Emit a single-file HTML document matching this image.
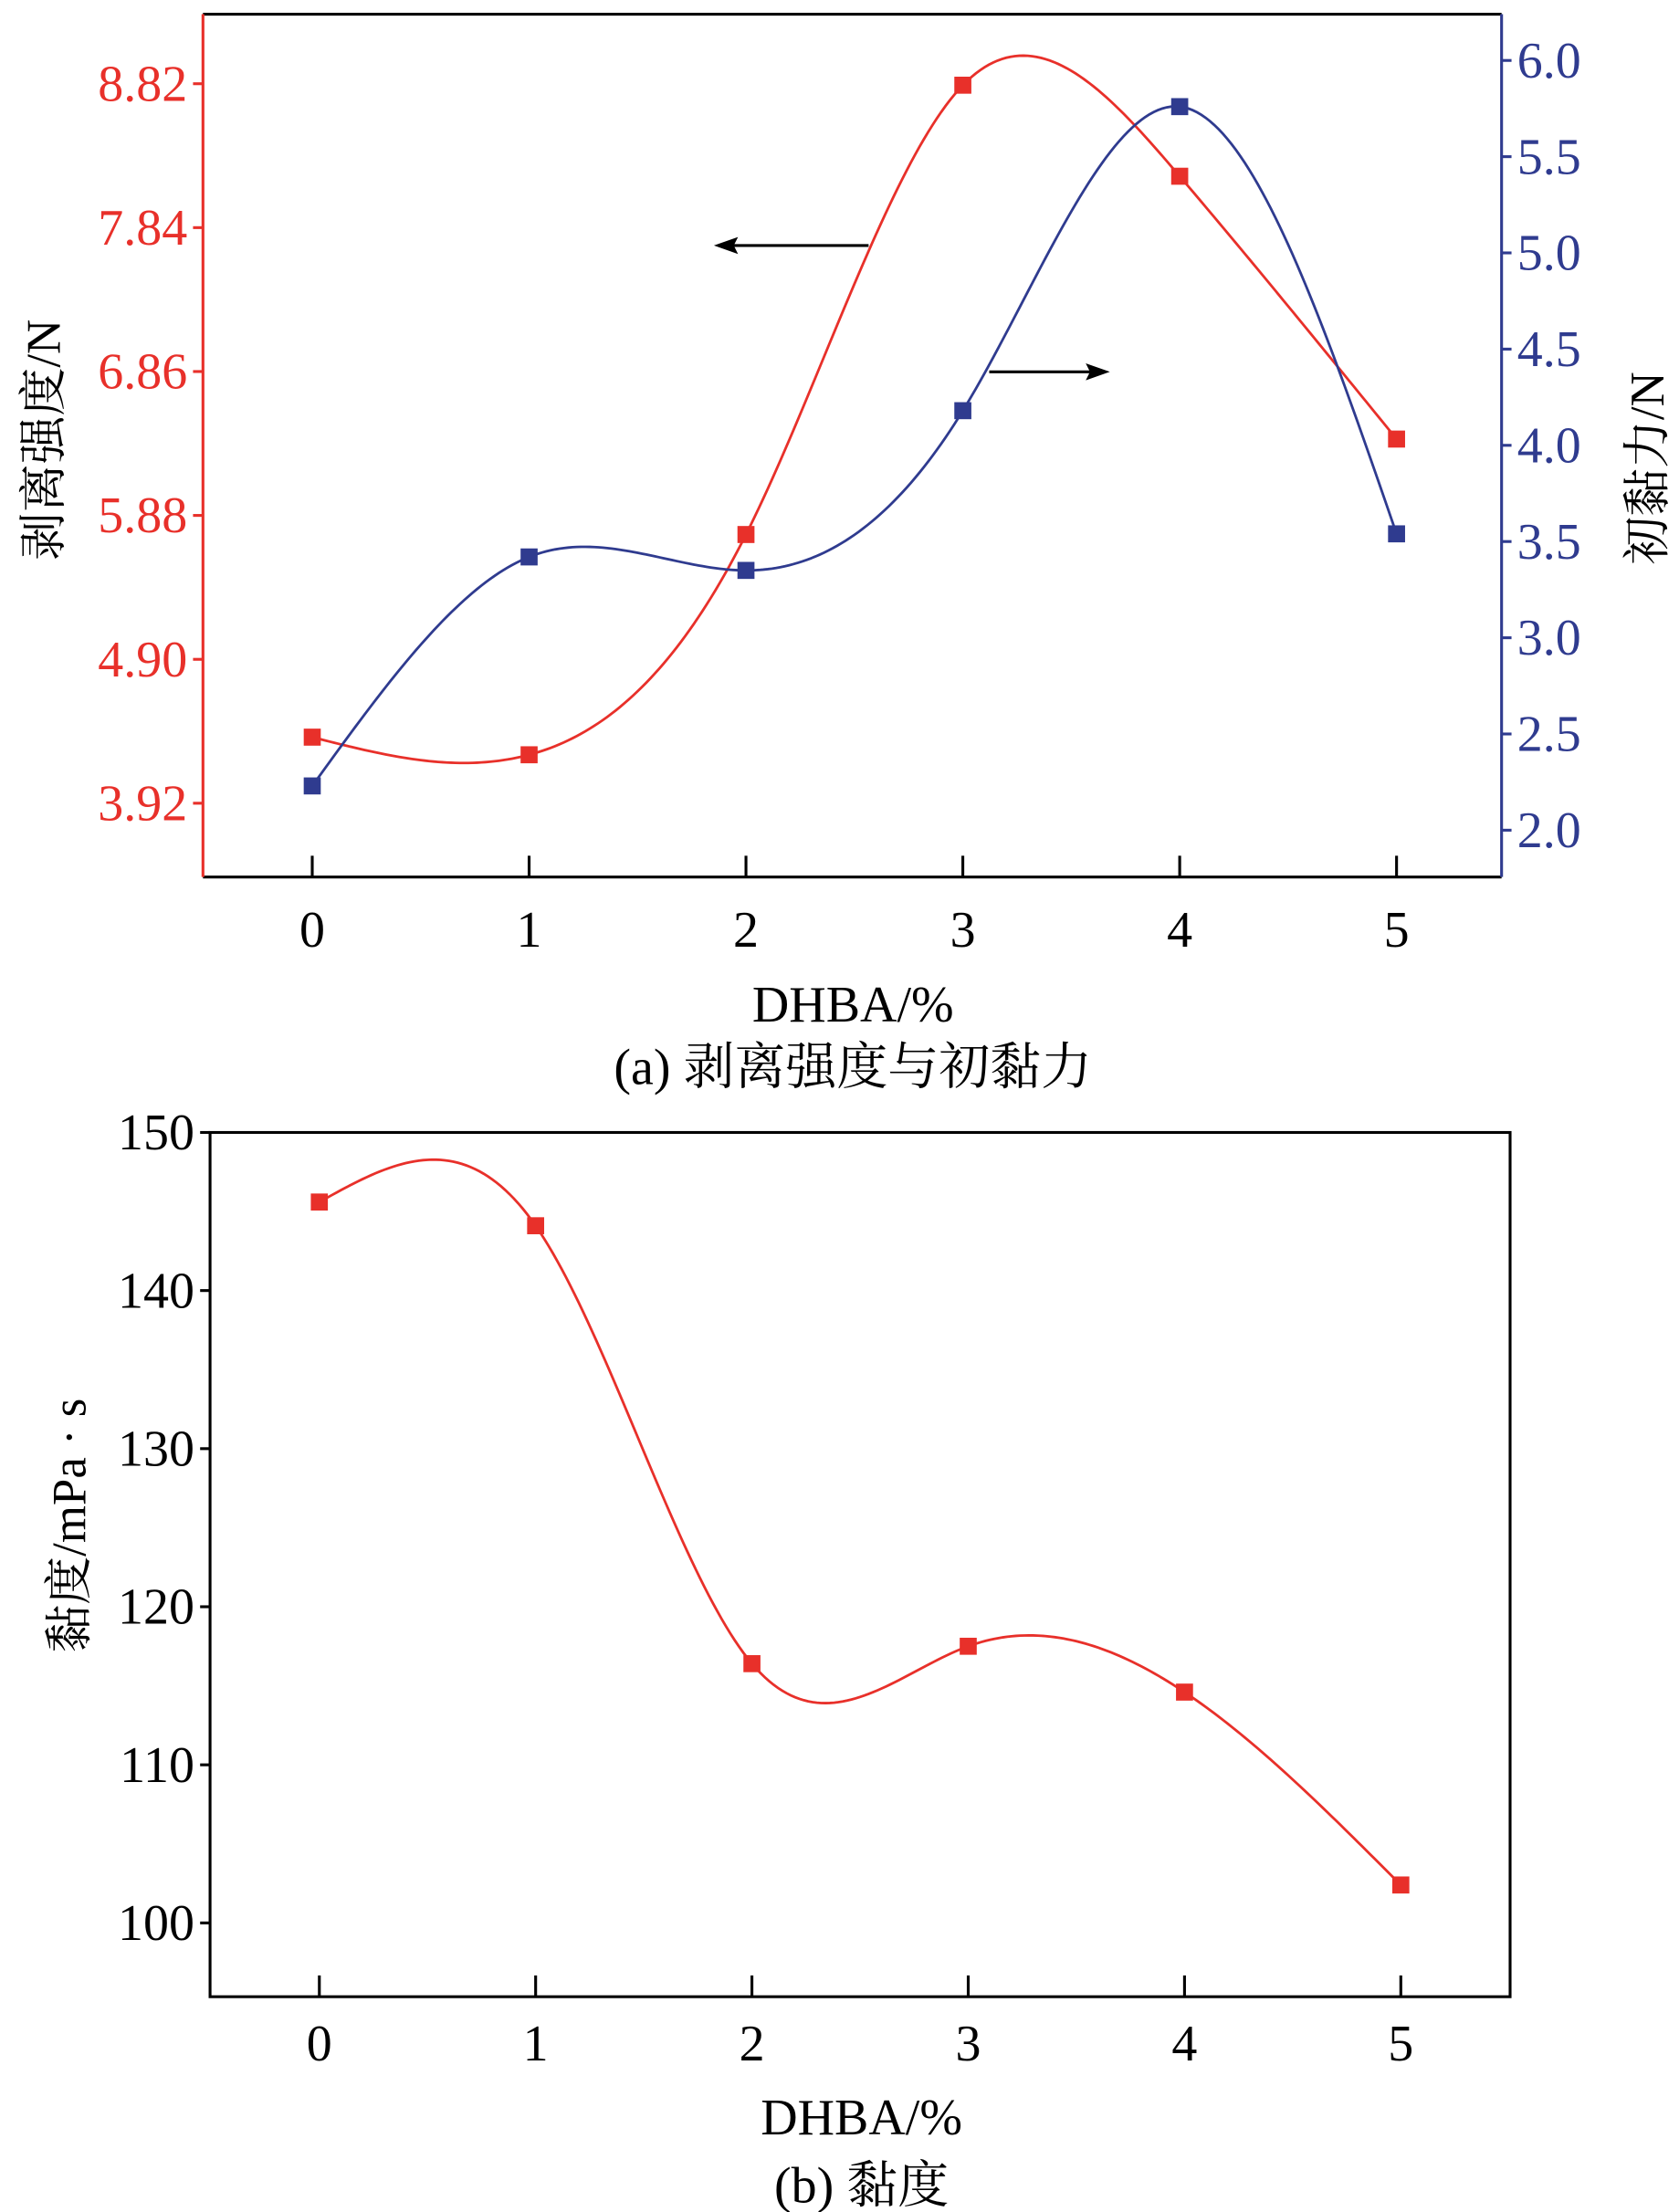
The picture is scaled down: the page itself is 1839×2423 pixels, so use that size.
<!DOCTYPE html>
<html><head><meta charset="utf-8"><style>html,body{margin:0;padding:0;background:#fff}svg{display:block}text{font-family:"Liberation Serif","Noto Serif CJK SC",serif}</style></head>
<body>
<svg id="fig" width="1839" height="2423" viewBox="0 0 1183 1558.7" xmlns="http://www.w3.org/2000/svg"></svg>
<script>
const categories=[0,1,2,3,4,5];
const peelValues=[4.37,4.25,5.75,8.81,8.19,6.40];
const tackValues=[2.23,3.42,3.35,4.18,5.76,3.54];
const viscValues=[145.6,144.1,116.4,117.5,114.6,102.4];
const peelTicks=[3.92,4.90,5.88,6.86,7.84,8.82];
const peelTickLabels=["3.92","4.90","5.88","6.86","7.84","8.82"];
const tackTicks=[2.0,2.5,3.0,3.5,4.0,4.5,5.0,5.5,6.0];
const tackTickLabels=["2.0","2.5","3.0","3.5","4.0","4.5","5.0","5.5","6.0"];
const viscTicks=[100,110,120,130,140,150];
const viscTickLabels=["100","110","120","130","140","150"];

const svg=document.getElementById('fig');
const NS='http://www.w3.org/2000/svg';
function el(tag,attrs,parent){const e=document.createElementNS(NS,tag);for(const k in attrs)e.setAttribute(k,attrs[k]);(parent||svg).appendChild(e);return e;}
function txt(s,attrs,parent){const e=el('text',attrs,parent);e.textContent=s;return e;}
function spline(xs,ys){const n=xs.length;const h=[],al=[0],l=[1],mu=[0],z=[0];for(let i=0;i<n-1;i++)h.push(xs[i+1]-xs[i]);
for(let i=1;i<n-1;i++)al.push(3/h[i]*(ys[i+1]-ys[i])-3/h[i-1]*(ys[i]-ys[i-1]));
for(let i=1;i<n-1;i++){l[i]=2*(xs[i+1]-xs[i-1])-h[i-1]*mu[i-1];mu[i]=h[i]/l[i];z[i]=(al[i]-h[i-1]*z[i-1])/l[i];}
const c=new Array(n).fill(0),b=[],d=[];for(let j=n-2;j>=0;j--){c[j]=z[j]-mu[j]*c[j+1];b[j]=(ys[j+1]-ys[j])/h[j]-h[j]*(c[j+1]+2*c[j])/3;d[j]=(c[j+1]-c[j])/(3*h[j]);}
return t=>{let j=Math.min(n-2,Math.max(0,Math.floor(t)));const dx=t-xs[j];return ys[j]+b[j]*dx+c[j]*dx*dx+d[j]*dx*dx*dx;};}
function curve(xf,yf,vals,color,name,g){const f=spline(categories,vals);let p='';for(let t=0;t<=5.0001;t+=0.02){p+=(p?'L':'M')+xf(t).toFixed(2)+','+yf(f(t)).toFixed(2);}
const path=el('path',{d:p,fill:'none',stroke:color,'stroke-width':1.8},g);


vals.forEach((v,i)=>{const r=el('rect',{x:xf(categories[i])-6,y:yf(v)-6,width:12,height:12,fill:color},g);

});}

// ===== Chart (a) =====
const ga=el('g',{});
const A={l:143,r:1058,t:10,b:618};
const xa=v=>220+v*152.8;
const ya=v=>566-(v-3.92)/0.98*101.4;
const yb=v=>585-(v-2.0)/0.5*67.8;
const RED='#e8302a',BLUE='#2f3b8f';
el('line',{x1:A.l,y1:A.t,x2:A.r,y2:A.t,stroke:'#000','stroke-width':2},ga);
el('line',{x1:A.l,y1:A.b,x2:A.r,y2:A.b,stroke:'#000','stroke-width':2},ga);
el('line',{x1:A.l,y1:A.t,x2:A.l,y2:A.b,stroke:RED,'stroke-width':2},ga);
el('line',{x1:A.r,y1:A.t,x2:A.r,y2:A.b,stroke:BLUE,'stroke-width':2},ga);
categories.forEach(c=>{el('line',{x1:xa(c),y1:A.b,x2:xa(c),y2:A.b-15,stroke:'#000','stroke-width':2},ga);
const t=txt(String(c),{x:xa(c),y:667,'font-size':36,'text-anchor':'middle',fill:'#000'},ga);
});
peelTicks.forEach((v,i)=>{el('line',{x1:A.l,y1:ya(v),x2:A.l-7,y2:ya(v),stroke:RED,'stroke-width':2},ga);
const t=txt(peelTickLabels[i],{x:A.l-11,y:ya(v)+12,'font-size':36,'text-anchor':'end',fill:RED},ga);
});
tackTicks.forEach((v,i)=>{el('line',{x1:A.r,y1:yb(v),x2:A.r+7,y2:yb(v),stroke:BLUE,'stroke-width':2},ga);
const t=txt(tackTickLabels[i],{x:A.r+11,y:yb(v)+12,'font-size':36,fill:BLUE},ga);
});
curve(xa,ya,peelValues,RED,'peel-strength',ga);
curve(xa,yb,tackValues,BLUE,'initial-tack',ga);
// arrows
el('line',{x1:612,y1:173,x2:515,y2:173,stroke:'#000','stroke-width':2},ga);
el('path',{d:'M503,173 L520,167 L517,173 L520,179 Z',fill:'#000'},ga);
el('line',{x1:697,y1:262,x2:770,y2:262,stroke:'#000','stroke-width':2},ga);
el('path',{d:'M782,262 L765,256 L768,262 L765,268 Z',fill:'#000'},ga);
let t;
t=txt('剥离强度/N',{x:0,y:0,'font-size':34,'text-anchor':'middle',fill:'#000',transform:'translate(42,310) rotate(-90)'},ga);

t=txt('初黏力/N',{x:0,y:0,'font-size':34,'text-anchor':'middle',fill:'#000',transform:'translate(1172,330) rotate(-90)'},ga);

t=txt('DHBA/%',{x:601,y:720,'font-size':36,'text-anchor':'middle',fill:'#000'},ga);

t=txt('(a) 剥离强度与初黏力',{x:601,y:764,'font-size':36,'text-anchor':'middle',fill:'#000'},ga);


// ===== Chart (b) =====
const gb=el('g',{});
const B={l:148,r:1064,t:798,b:1407};
const xb=v=>225+v*152.4;
const yv=v=>1355-(v-100)/10*111.4;
el('rect',{x:B.l,y:B.t,width:B.r-B.l,height:B.b-B.t,fill:'none',stroke:'#000','stroke-width':2},gb);
categories.forEach(c=>{el('line',{x1:xb(c),y1:B.b,x2:xb(c),y2:B.b-15,stroke:'#000','stroke-width':2},gb);
const t=txt(String(c),{x:xb(c),y:1452,'font-size':36,'text-anchor':'middle',fill:'#000'},gb);
});
viscTicks.forEach((v,i)=>{el('line',{x1:B.l,y1:yv(v),x2:B.l-7,y2:yv(v),stroke:'#000','stroke-width':2},gb);
const t=txt(viscTickLabels[i],{x:B.l-11,y:yv(v)+12,'font-size':36,'text-anchor':'end',fill:'#000'},gb);
});
curve(xb,yv,viscValues,RED,'viscosity',gb);
t=txt('黏度/mPa · s',{x:0,y:0,'font-size':34,'text-anchor':'middle',fill:'#000',transform:'translate(60,1075) rotate(-90)'},gb);

t=txt('DHBA/%',{x:607,y:1504,'font-size':36,'text-anchor':'middle',fill:'#000'},gb);

t=txt('(b) 黏度',{x:607,y:1552,'font-size':36,'text-anchor':'middle',fill:'#000'},gb);

</script>
</body></html>
